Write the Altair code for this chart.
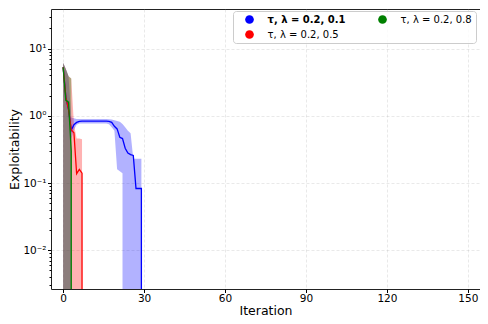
import altair as alt
import numpy as np
import pandas as pd

# ---------------- data ----------------
LABEL_01 = "τ, λ = 0.2, 0.1"
LABEL_05 = "τ, λ = 0.2, 0.5"
LABEL_08 = "τ, λ = 0.2, 0.8"

iter_01 = list(range(31))
mean_01 = [5.3, 1.9, 1.25, 0.61, 0.74, 0.80, 0.83, 0.835, 0.835, 0.835,
           0.835, 0.835, 0.835, 0.835, 0.835, 0.835, 0.835, 0.83, 0.80, 0.70,
           0.64, 0.48, 0.46, 0.33, 0.28, 0.265, 0.258, 0.083, 0.083, 0.083, 0.0]
lo_01 = [0.0, 0.0, 0.0, 0.45, 0.62, 0.74, 0.77, 0.77, 0.77, 0.77,
         0.77, 0.77, 0.77, 0.77, 0.77, 0.77, 0.77, 0.75, 0.68, 0.60,
         0.16, 0.15, 0.14, 0.0, 0.0, 0.0, 0.0, 0.0, 0.0, 0.0, 0.0]
hi_01 = [6.2, 5.0, 3.9, 0.95, 0.92, 0.90, 0.90, 0.90, 0.90, 0.90,
         0.90, 0.90, 0.90, 0.90, 0.90, 0.90, 0.90, 0.89, 0.88, 0.86,
         0.84, 0.82, 0.76, 0.68, 0.60, 0.55, 0.23, 0.23, 0.23, 0.23, 0.0]

iter_05 = list(range(9))
mean_05 = [5.3, 1.9, 1.25, 0.62, 0.56, 0.138, 0.16, 0.14, 0.0]
lo_05 = [0.0, 0.0, 0.0, 0.0, 0.0, 0.0, 0.0, 0.0, 0.0]
hi_05 = [6.2, 5.0, 3.9, 3.6, 0.75, 0.46, 0.46, 0.45, 0.0]

iter_08 = list(range(5))
mean_08 = [5.3, 1.7, 1.6, 0.3, 0.0]
lo_08 = [0.0, 0.0, 0.0, 0.0, 0.0]
hi_08 = [6.2, 5.0, 3.9, 3.6, 0.0]

x_ticks = [0, 30, 60, 90, 120, 150]
y_major = [0.01, 0.1, 1, 10]
y_minor = [0.003, 0.004, 0.005, 0.006, 0.007, 0.008, 0.009,
           0.02, 0.03, 0.04, 0.05, 0.06, 0.07, 0.08, 0.09,
           0.2, 0.3, 0.4, 0.5, 0.6, 0.7, 0.8, 0.9,
           2, 3, 4, 5, 6, 7, 8, 9, 20, 30]

COLORS = {LABEL_01: "#0000ff", LABEL_05: "#ff0000", LABEL_08: "#008000"}
LEGEND_ORDER = [LABEL_01, LABEL_05, LABEL_08]  # column-major: col1 0.1, 0.5 ; col2 0.8

# zero values are drawn clipped below the axis, like matplotlib's log clipping
FLOOR = 1e-300


def frame(label, iters, mean, lo, hi):
    return pd.DataFrame({
        "series": label,
        "iter": iters,
        "mean": np.maximum(np.array(mean, dtype=float), FLOOR),
        "lo": np.maximum(np.array(lo, dtype=float), FLOOR),
        "hi": np.maximum(np.array(hi, dtype=float), FLOOR),
    })


series = [
    (LABEL_01, frame(LABEL_01, iter_01, mean_01, lo_01, hi_01)),
    (LABEL_05, frame(LABEL_05, iter_05, mean_05, lo_05, hi_05)),
    (LABEL_08, frame(LABEL_08, iter_08, mean_08, lo_08, hi_08)),
]

# ---------------- scales / axes ----------------
MAJ = "abs(log(datum.value)/LN10 - round(log(datum.value)/LN10)) < 1e-6"
EXP = "('' + round(log(datum.value)/LN10))"
label_expr = (
    f"({MAJ}) ? '10' + replace(replace(replace(replace({EXP}, '-', '⁻'), '2', '²'), '1', '¹'), '0', '⁰') : ''"
)

GRID = dict(gridDash=[3, 2], gridColor="#b0b0b0", gridWidth=0.8)

x_enc = alt.X(
    "iter:Q",
    scale=alt.Scale(domain=[-4.5, 154.5], nice=False, zero=False),
    axis=alt.Axis(values=x_ticks, title="Iteration", tickSize=3.5, labelPadding=1,
                  labelFontSize=10.5, titleFontSize=12.5, titlePadding=0,
                  grid=True, gridOpacity=0.35, labelFlush=False, **GRID),
)

y_scale = alt.Scale(type="log", domain=[0.00265, 39], nice=False)
y_axis = alt.Axis(
    values=y_major + y_minor,
    labelExpr=label_expr,
    title="Exploitability",
    tickSize={"condition": {"test": MAJ, "value": 3.5}, "value": 2},
    gridOpacity={"condition": {"test": MAJ, "value": 0.35}, "value": 0},
    labelPadding=1.5, labelFontSize=10.5, titleFontSize=12.5, titlePadding=1,
    labelOverlap=False, labelBound=False, labelFlush=False, **GRID,
)

legend = alt.Legend(
    title=None, orient="none", legendX=182, legendY=2, columns=2,
    symbolType="circle", symbolSize=75, symbolOpacity=1, symbolStrokeWidth=0,
    symbolOffset=8, labelOffset=13, columnPadding=23, rowPadding=5, padding=3.5,
    labelFont="DejaVu Sans", labelFontSize=10, labelColor="#000", labelLimit=0,
    labelFontWeight={"expr": f"datum.value == '{LABEL_01}' ? 'bold' : 'normal'"},
    fillColor="rgba(255,255,255,0.8)", strokeColor="#cccccc", cornerRadius=3,
)

color_enc = alt.Color(
    "series:N",
    scale=alt.Scale(domain=LEGEND_ORDER, range=[COLORS[k] for k in LEGEND_ORDER]),
    legend=legend,
)

bands = [
    alt.Chart(df).mark_area(clip=True, fillOpacity=0.3, interpolate="linear").encode(
        x=x_enc,
        y=alt.Y("hi:Q", scale=y_scale, axis=y_axis),
        y2="lo:Q",
        color=color_enc,
    )
    for _, df in series
]

lines = [
    alt.Chart(df).mark_line(clip=True, strokeWidth=1.3, color=COLORS[lab]).encode(
        x=x_enc,
        y=alt.Y("mean:Q", scale=y_scale, axis=y_axis),
    )
    for lab, df in series
]

chart = alt.layer(*bands, *lines).properties(
    width=429,
    height=280,
    autosize=alt.AutoSizeParams(type="none"),
    padding={"left": 43, "top": 1, "right": 0, "bottom": 27},
).configure_view(
    stroke="#222", strokeWidth=1
).configure_axis(
    labelFont="DejaVu Sans", titleFont="DejaVu Sans", labelColor="#000",
    titleColor="#000", tickColor="#000", domain=False, titleFontWeight="normal",
)

chart.save("out.html", embed_options={"renderer": "svg", "actions": False})
